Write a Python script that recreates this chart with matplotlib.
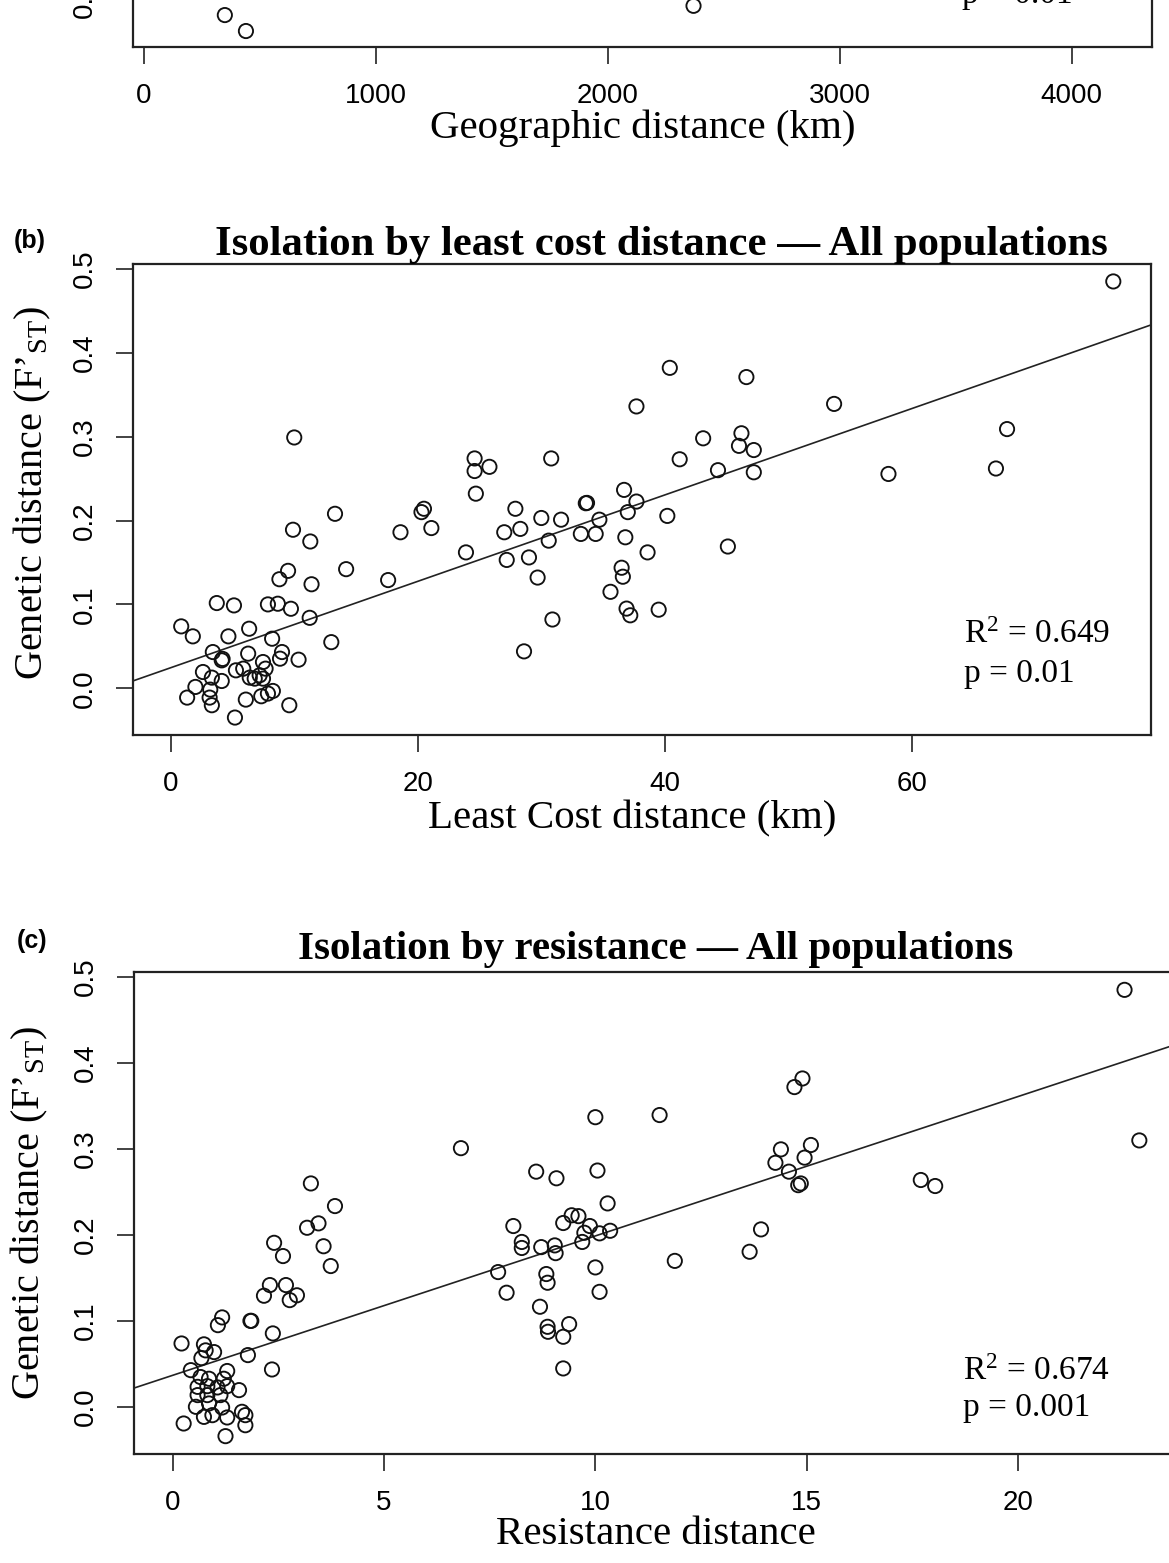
import numpy as np
import matplotlib
matplotlib.use("Agg")
import matplotlib.pyplot as plt

plt.rcParams["font.family"] = "Liberation Serif"
plt.rcParams["mathtext.fontset"] = "custom"
plt.rcParams["mathtext.rm"] = "Liberation Serif"
plt.rcParams["mathtext.it"] = "Liberation Serif:italic"
plt.rcParams["mathtext.bf"] = "Liberation Serif:bold"

# (a) geographic distance - only the bottom strip is visible in the crop
geo_km = [349, 440, 2370]
geo_fst = [-0.019, -0.038, -0.008]
geo_xticks = [0, 1000, 2000, 3000, 4000]

# (b) least cost distance (km) vs F'ST
lc_km = [10.0, 24.6, 25.8, 24.6, 24.7, 30.8, 13.3, 9.9, 18.6, 20.5, 20.3, 21.1,
         27.9, 27.0, 28.3, 30.0, 31.6, 33.7, 34.7, 11.3, 33.2, 34.4, 30.6, 23.9,
         27.2, 29.0, 29.7, 30.9, 28.6, 35.6, 14.2, 17.6, 9.5, 8.8, 11.4, 13.0,
         11.25, 3.73, 5.12, 7.87, 8.67, 9.73, 0.85, 1.79, 4.67, 6.35, 8.21, 3.41,
         4.13, 4.2, 6.27, 9.01, 8.85, 10.35, 7.47, 7.68, 2.61, 3.33, 4.13, 5.28,
         5.87, 6.4, 6.8, 7.2, 7.47, 2.0, 3.2, 1.33, 3.15, 3.33, 6.08, 7.33,
         7.87, 8.27, 9.6, 5.2,
         76.3, 40.4, 46.6, 37.7, 53.7, 67.7, 43.1, 46.2, 46.0, 47.2, 41.2, 44.3,
         47.2, 58.1, 66.8, 36.7, 33.6, 37.7, 37.0, 40.2, 36.8, 38.6, 45.1, 36.5,
         36.6, 36.9, 37.2, 39.5]
lc_fst = [0.299, 0.274, 0.264, 0.259, 0.232, 0.274, 0.208, 0.189, 0.186, 0.214, 0.210, 0.191,
          0.214, 0.186, 0.190, 0.203, 0.201, 0.221, 0.201, 0.175, 0.184, 0.184, 0.176, 0.162,
          0.153, 0.156, 0.132, 0.082, 0.044, 0.115, 0.142, 0.129, 0.140, 0.130, 0.124, 0.055,
          0.084, 0.1016, 0.0988, 0.100, 0.1008, 0.0948, 0.0738, 0.0619, 0.0619, 0.071, 0.0591, 0.0432,
          0.0333, 0.035, 0.0413, 0.0432, 0.0353, 0.0341, 0.0313, 0.0234, 0.0194, 0.0127, 0.0087, 0.0214,
          0.0234, 0.0127, 0.0115, 0.0155, 0.0115, 0.0016, -0.0016, -0.0111, -0.0111, -0.0202, -0.0135, -0.0095,
          -0.0063, -0.0032, -0.0202, -0.0349,
          0.485, 0.382, 0.371, 0.336, 0.339, 0.309, 0.298, 0.304, 0.289, 0.284, 0.273, 0.260,
          0.2575, 0.2555, 0.262, 0.2365, 0.2206, 0.2226, 0.210, 0.2055, 0.180, 0.162, 0.169, 0.1437,
          0.133, 0.095, 0.087, 0.0937]
lc_fit = (0.0245, 0.00515)  # intercept, slope
lc_xticks = [0, 20, 40, 60]

# (c) resistance distance vs F'ST
res_dist = [1.17, 1.07, 1.84, 1.86, 2.37, 0.21, 0.74, 0.78, 0.98, 0.68, 1.78, 2.35,
            0.43, 1.29, 0.66, 0.86, 1.21, 0.59, 0.82, 1.06, 1.29, 1.57, 0.59, 0.82,
            1.13, 0.55, 0.86, 1.17, 0.74, 0.94, 1.29, 1.64, 1.72, 1.72, 0.26, 1.25,
            3.27, 3.84, 3.18, 3.45, 3.57, 3.74, 2.40, 2.61, 2.30, 2.68, 2.16, 2.77,
            2.94, 6.82,
            10.0, 8.6, 9.08, 10.05, 10.29, 8.06, 8.26, 8.26, 8.72, 9.04, 9.06, 9.24,
            9.44, 9.6, 9.87, 9.74, 9.69, 10.1, 10.35, 7.70, 7.90, 8.84, 8.87, 8.69,
            8.87, 8.88, 9.38, 9.24, 9.24, 10.0, 10.1,
            11.52, 11.88, 13.92, 13.65, 14.9, 14.71, 15.1, 14.39, 14.95, 14.26, 14.58, 14.86,
            14.8, 17.7, 18.04, 22.52, 22.87]
res_fst = [0.1043, 0.0953, 0.1003, 0.1003, 0.0857, 0.074, 0.073, 0.066, 0.064, 0.057, 0.0605, 0.0438,
           0.043, 0.042, 0.035, 0.033, 0.033, 0.0236, 0.0244, 0.0229, 0.0244, 0.0198, 0.014, 0.014,
           0.014, 0.0004, 0.0043, -0.0004, -0.0113, -0.0093, -0.012, -0.0054, -0.0093, -0.021, -0.019, -0.0337,
           0.260, 0.2337, 0.2085, 0.2136, 0.187, 0.164, 0.191, 0.1756, 0.1419, 0.1419, 0.1295, 0.1244,
           0.130, 0.301,
           0.337, 0.2737, 0.266, 0.275, 0.2368, 0.2105, 0.192, 0.185, 0.186, 0.188, 0.179, 0.214,
           0.223, 0.222, 0.2105, 0.2027, 0.192, 0.202, 0.205, 0.157, 0.133, 0.1547, 0.1446, 0.1167,
           0.0934, 0.0876, 0.0965, 0.0818, 0.045, 0.1624, 0.134,
           0.3395, 0.170, 0.2066, 0.1806, 0.382, 0.372, 0.3047, 0.2996, 0.290, 0.284, 0.2737, 0.260,
           0.258, 0.264, 0.257, 0.485, 0.310]
res_fit = (0.037, 0.0162)
res_xticks = [0, 5, 10, 15, 20]

yticks = [0.0, 0.1, 0.2, 0.3, 0.4, 0.5]
ylab = "Genetic distance (F\u2019$_{\\mathrm{ST}}$)"

W, H = 1169, 1563
fig = plt.figure(figsize=(W / 100, H / 100), dpi=100)


def px_axes(left, top, right, bottom):
    return fig.add_axes([left / W, 1 - bottom / H, (right - left) / W, (bottom - top) / H])


def style(ax, xticks, xlabel):
    ax.set_xticks(xticks)
    ax.set_xticklabels([str(t) for t in xticks], fontfamily="Liberation Sans", fontsize=20)
    ax.set_yticks(yticks)
    ax.set_yticklabels([f"{t:.1f}" for t in yticks], fontfamily="Liberation Sans",
                       fontsize=20, rotation=90, va="center")
    ax.tick_params(direction="out", length=12, width=1.2, color="#222222")
    ax.tick_params(axis="x", pad=14)
    ax.tick_params(axis="y", pad=13)
    for s in ax.spines.values():
        s.set_linewidth(1.6)
        s.set_color("#222222")
    ax.set_xlabel(xlabel, fontsize=29.5, labelpad=0)
    ax.set_ylabel(ylab, fontsize=29)


def points(ax, x, y):
    ax.scatter(x, y, s=105, facecolors="none", edgecolors="#111111", linewidths=1.35, zorder=3)


# panel (a)
axa = px_axes(133, -426, 1152, 47)
points(axa, geo_km, geo_fst)
axa.set_xlim(-47, 4347)
axa.set_ylim(-0.057, 0.5058)
style(axa, geo_xticks, "Geographic distance (km)")
axa.yaxis.set_label_coords(-0.079, 0.5)
axa.text(0.8135, 0.093, "p = 0.01", transform=axa.transAxes, fontsize=24, va="baseline")

# panel (b)
axb = px_axes(133, 264, 1151, 735)
points(axb, lc_km, lc_fst)
axb.margins(0.04)
axb.axline((0, lc_fit[0]), slope=lc_fit[1], color="#222222", lw=1.2)
style(axb, lc_xticks, "Least Cost distance (km)")
axb.xaxis.set_label_coords(0.49, -0.138)
axb.yaxis.set_label_coords(-0.079, 0.515)
axb.set_title("Isolation by least cost distance \u2014 All populations", fontsize=30.8,
              fontweight="bold", pad=1, x=0.519)
axb.text(0.816, 0.196, "R$^{2}$ = 0.649", transform=axb.transAxes, fontsize=24, va="baseline")
axb.text(0.816, 0.113, "p = 0.01", transform=axb.transAxes, fontsize=24, va="baseline")
fig.text(30 / W, 1 - 241 / H, "(b)", fontfamily="Liberation Sans", fontweight="bold",
         fontsize=18, ha="center", va="center")

# panel (c)
axc = px_axes(134, 972, 1178, 1454)
points(axc, res_dist, res_fst)
axc.margins(0.04)
axc.axline((0, res_fit[0]), slope=res_fit[1], color="#222222", lw=1.2)
style(axc, res_xticks, "Resistance distance")
axc.yaxis.set_label_coords(-0.080, 0.5)
axc.set_title("Isolation by resistance \u2014 All populations", fontsize=29.5,
              fontweight="bold", pad=9)
axc.text(0.7936, 0.154, "R$^{2}$ = 0.674", transform=axc.transAxes, fontsize=24, va="baseline")
axc.text(0.7936, 0.078, "p = 0.001", transform=axc.transAxes, fontsize=24, va="baseline")
fig.text(32 / W, 1 - 941 / H, "(c)", fontfamily="Liberation Sans", fontweight="bold",
         fontsize=18, ha="center", va="center")

fig.savefig("out.png", dpi=100)
print("saved out.png")
